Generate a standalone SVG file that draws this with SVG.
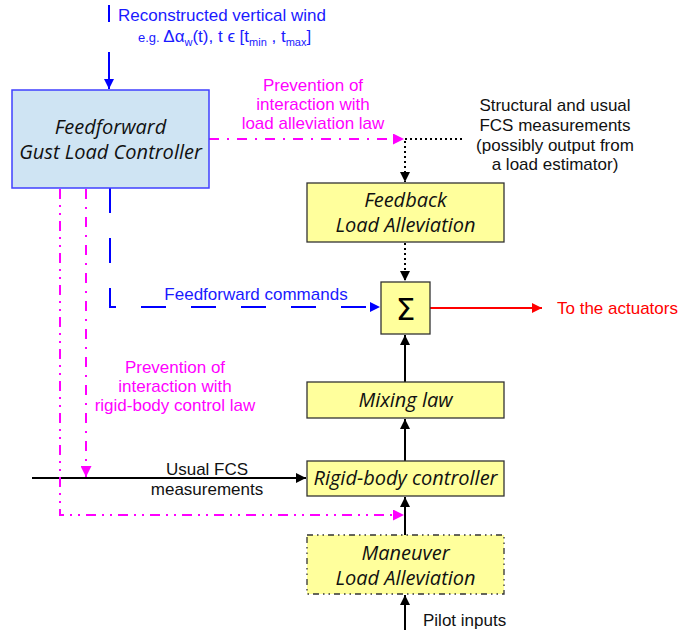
<svg xmlns="http://www.w3.org/2000/svg" width="679" height="635" viewBox="0 0 679 635">
<defs>
<style>
.box{stroke:#333;stroke-width:1.3}
.yel{fill:#ffff9c}
.nt{font-family:"Open Sans","DejaVu Sans",sans-serif;font-style:italic;font-size:20px;fill:#111;text-anchor:middle}
.lt{font-family:"Liberation Sans",Arial,sans-serif;font-size:17px}
.mg{fill:#ff00ff;text-anchor:middle}
.bk{fill:#111}
.bl{fill:#1a1aff}
.c{text-anchor:middle}
</style>
<marker id="ak" viewBox="0 0 10 10" refX="10" refY="5" markerWidth="10" markerHeight="10" markerUnits="userSpaceOnUse" orient="auto"><path d="M0,0 L10,5 L0,10 z" fill="#000"/></marker>
<marker id="ab" viewBox="0 0 10 10" refX="10" refY="5" markerWidth="11" markerHeight="10" markerUnits="userSpaceOnUse" orient="auto"><path d="M0,0 L10,5 L0,10 z" fill="#0000ff"/></marker>
<marker id="ar" viewBox="0 0 10 10" refX="10" refY="5" markerWidth="13" markerHeight="10" markerUnits="userSpaceOnUse" orient="auto"><path d="M0,0 L10,5 L0,10 z" fill="#ff0000"/></marker>
<marker id="am" viewBox="0 0 10 10" refX="10" refY="5" markerWidth="12" markerHeight="11" markerUnits="userSpaceOnUse" orient="auto"><path d="M0,0 L10,5 L0,10 z" fill="#ff00ff"/></marker>
</defs>
<rect width="679" height="635" fill="#fff"/>

<g id="connectors" fill="none">
<line x1="109" y1="5" x2="109" y2="22" stroke="#0000ff" stroke-width="2"/>
<line x1="109" y1="52" x2="109" y2="89" stroke="#0000ff" stroke-width="2" marker-end="url(#ab)"/>
<path d="M110,188 V307 H380" stroke="#0000ff" stroke-width="2" stroke-dasharray="25 25" marker-end="url(#ab)"/>
<line x1="209" y1="139" x2="404" y2="139" stroke="#ff00ff" stroke-width="2" stroke-dasharray="10 8 2 8" marker-end="url(#am)"/>
<line x1="405" y1="139" x2="462" y2="139" stroke="#000" stroke-width="2" stroke-dasharray="2 3"/>
<line x1="405" y1="141" x2="405" y2="182" stroke="#000" stroke-width="2" stroke-dasharray="2 3" marker-end="url(#ak)"/>
<line x1="405" y1="243" x2="405" y2="281" stroke="#000" stroke-width="2" stroke-dasharray="2 3" marker-end="url(#ak)"/>
<line x1="430" y1="308" x2="542" y2="308" stroke="#ff0000" stroke-width="2" marker-end="url(#ar)"/>
<line x1="405" y1="382" x2="405" y2="335" stroke="#000" stroke-width="2" marker-end="url(#ak)"/>
<line x1="405" y1="461" x2="405" y2="419" stroke="#000" stroke-width="2" marker-end="url(#ak)"/>
<line x1="405" y1="535" x2="405" y2="497" stroke="#000" stroke-width="2" marker-end="url(#ak)"/>
<line x1="405" y1="630" x2="405" y2="595" stroke="#000" stroke-width="2" marker-end="url(#ak)"/>
<line x1="32" y1="478" x2="306" y2="478" stroke="#000" stroke-width="2" marker-end="url(#ak)"/>
<line x1="86" y1="189" x2="86" y2="477" stroke="#ff00ff" stroke-width="2" stroke-dasharray="10 8 2 8" marker-end="url(#am)"/>
<path d="M60,189 V515 H404" stroke="#ff00ff" stroke-width="2" stroke-dasharray="10 6 2 6 2 6" marker-end="url(#am)"/>
</g>

<g id="ff-controller">
<rect x="12" y="90" width="197" height="98" fill="#cfe4f3" stroke="#4040ff" stroke-width="1.5"/>
<text class="nt" x="110.5" y="134">Feedforward</text>
<text class="nt" x="110.5" y="159">Gust Load Controller</text>
</g>
<g id="feedback-la">
<rect class="box yel" x="307" y="183" width="197" height="59"/>
<text class="nt" x="405.5" y="207">Feedback</text>
<text class="nt" x="405.5" y="232">Load Alleviation</text>
</g>
<g id="sum">
<rect class="box yel" x="381" y="282" width="49" height="52"/>
<text x="405.5" y="320" font-family="'DejaVu Sans',sans-serif" font-size="31" text-anchor="middle" fill="#000">Σ</text>
</g>
<g id="mixing-law">
<rect class="box yel" x="307" y="382" width="197" height="36"/>
<text class="nt" x="405.5" y="407">Mixing law</text>
</g>
<g id="rigid-body">
<rect class="box yel" x="307" y="461" width="197" height="35"/>
<text class="nt" x="405.5" y="485">Rigid-body controller</text>
</g>
<g id="maneuver-la">
<rect x="307" y="535" width="197" height="59" fill="#ffff9c" stroke="#333" stroke-width="1.3" stroke-dasharray="6 4 1.5 4 1.5 4"/>
<text class="nt" x="405.5" y="560">Maneuver</text>
<text class="nt" x="405.5" y="585">Load Alleviation</text>
</g>

<g id="labels">
<text class="lt bl" x="118" y="21">Reconstructed vertical wind</text>
<text class="lt bl" x="138" y="42" font-size="16.5"><tspan font-size="13">e.g. </tspan><tspan>Δα</tspan><tspan font-size="11" dy="4">w</tspan><tspan dy="-4">(t), t ϵ [t</tspan><tspan font-size="11" dy="4">min</tspan><tspan dy="-4"> , t</tspan><tspan font-size="11" dy="4">max</tspan><tspan dy="-4">]</tspan></text>
<text class="lt mg" x="313" y="91">Prevention of</text>
<text class="lt mg" x="313" y="110">interaction with</text>
<text class="lt mg" x="313" y="129">load alleviation law</text>
<text class="lt bk c" x="555" y="111">Structural and usual</text>
<text class="lt bk c" x="555" y="131">FCS measurements</text>
<text class="lt bk c" x="555" y="151">(possibly output from</text>
<text class="lt bk c" x="555" y="170">a load estimator)</text>
<text class="lt bl c" x="256" y="300">Feedforward commands</text>
<text class="lt" x="557" y="314" fill="#ff0000">To the actuators</text>
<text class="lt mg" x="175" y="373">Prevention of</text>
<text class="lt mg" x="175" y="392">interaction with</text>
<text class="lt mg" x="175" y="411">rigid-body control law</text>
<text class="lt bk c" x="207" y="475">Usual FCS</text>
<text class="lt bk c" x="207" y="495">measurements</text>
<text class="lt bk" x="423" y="626">Pilot inputs</text>
</g>
</svg>
